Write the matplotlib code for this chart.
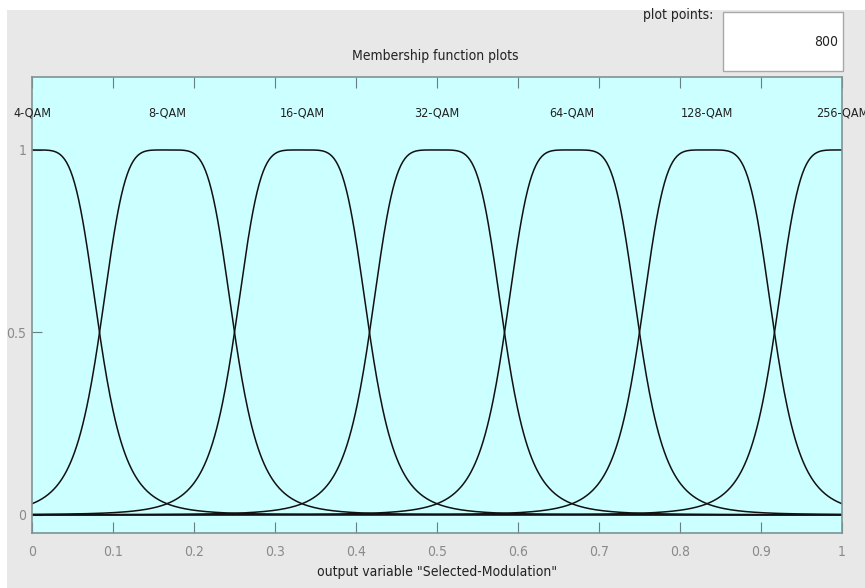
import numpy as np
import matplotlib.pyplot as plt
from matplotlib.patches import Rectangle

plt.rcParams['font.family'] = ['DejaVu Sans']
plt.rcParams['font.stretch'] = 'condensed'

# membership functions of output variable "Selected-Modulation" (gbellmf: a, b, c)
mf_names = ["4-QAM", "8-QAM", "16-QAM", "32-QAM", "64-QAM", "128-QAM", "256-QAM"]
mf_centers = [0.0, 0.1667, 0.3333, 0.5, 0.6667, 0.8333, 1.0]
mf_widths = [0.0833, 0.0833, 0.0833, 0.0833, 0.0833, 0.0833, 0.0833]
mf_slopes = [2.5, 2.5, 2.5, 2.5, 2.5, 2.5, 2.5]
plot_points = 800

x_ticks = [0, 0.1, 0.2, 0.3, 0.4, 0.5, 0.6, 0.7, 0.8, 0.9, 1]
x_tick_labels = ["0", "0.1", "0.2", "0.3", "0.4", "0.5", "0.6", "0.7", "0.8", "0.9", "1"]
y_ticks = [0, 0.5, 1]
y_tick_labels = ["0", "0.5", "1"]


def gbellmf(x, a, b, c):
    return 1.0 / (1.0 + np.abs((x - c) / a) ** (2 * b))


W, H = 865, 588
fig = plt.figure(figsize=(W / 100, H / 100), dpi=100, facecolor='white')

# grey panel behind everything
fig.patches.append(Rectangle((7 / W, 0), 1, 1 - 10 / H, transform=fig.transFigure,
                             facecolor='#e8e8e8', edgecolor='none', zorder=-10))

ax = fig.add_axes([32 / W, 1 - 533 / H, 810 / W, 456 / H])
ax.set_facecolor('#ccffff')

x = np.linspace(0, 1, plot_points)
for name, a, b, c in zip(mf_names, mf_widths, mf_slopes, mf_centers):
    ax.plot(x, gbellmf(x, a, b, c), color='#111111', lw=1.1)
    ax.text(c, 1.1, name, ha='center', va='center', fontsize=9, color='#222222', clip_on=False)

ax.set_xlim(0, 1)
ax.set_ylim(-0.05, 1.2)
ax.set_xticks(x_ticks)
ax.set_xticklabels(x_tick_labels)
ax.set_yticks(y_ticks)
ax.set_yticklabels(y_tick_labels)
ax.tick_params(axis='x', direction='in', top=True, bottom=True, length=8, width=0.8,
               color='#6a7f7f', labelcolor='#8a8a8a', labelsize=10, pad=9)
ax.tick_params(axis='y', direction='in', left=True, right=False, length=7, width=0.8,
               color='#6a7f7f', labelcolor='#8a8a8a', labelsize=10, pad=4)
for s in ax.spines.values():
    s.set_color('#7f9393')
    s.set_linewidth(1.2)

ax.set_xlabel('output variable "Selected-Modulation"', fontsize=10, color='#222222', labelpad=4)

fig.text(435 / W, 1 - 56 / H, 'Membership function plots', ha='center', va='center',
         fontsize=10, color='#222222')
fig.text(713 / W, 1 - 15 / H, 'plot points:', ha='right', va='center', fontsize=10, color='#222222')
fig.patches.append(Rectangle((723 / W, 1 - 71 / H), 120 / W, 59 / H, transform=fig.transFigure,
                             facecolor='white', edgecolor='#a8a8a8', lw=1.0, zorder=1))
fig.text(838 / W, 1 - 42 / H, str(plot_points), ha='right', va='center', fontsize=10,
         color='#222222', zorder=2)

fig.savefig('out.png', dpi=100, facecolor=fig.get_facecolor())
